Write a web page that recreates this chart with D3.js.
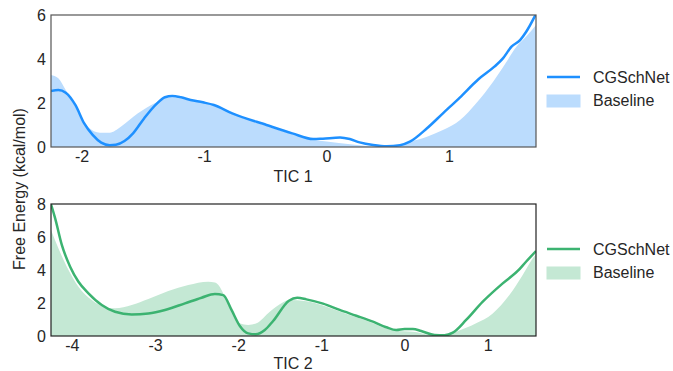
<!DOCTYPE html>
<html lang="en">
<head>
    <meta charset="UTF-8">
    <title>Free energy TIC</title>
    <style>
        body { margin: 0; background: #fff; }
        text { font-family: "Liberation Sans", Arial, sans-serif; fill: #262626; }
    </style>
</head>
<body>
<script src="https://cdn.jsdelivr.net/npm/d3@7"></script>
<script>
    // TIC 1 panel
    const tic1NetX = [-2.25, -2.19, -2.13, -2.05, -1.98, -1.91, -1.84, -1.77, -1.72, -1.65, -1.58, -1.49, -1.39, -1.32, -1.26, -1.19, -1.11, -1.01, -0.92, -0.77, -0.49, -0.28, -0.11, -0.03, 0.11, 0.19, 0.27, 0.38, 0.49, 0.60, 0.68, 0.82, 0.95, 1.09, 1.24, 1.37, 1.44, 1.51, 1.58, 1.63, 1.71];
    const tic1NetY = [2.55, 2.59, 2.47, 1.90, 1.08, 0.55, 0.20, 0.08, 0.10, 0.27, 0.62, 1.30, 1.95, 2.26, 2.32, 2.26, 2.14, 2.03, 1.91, 1.53, 1.00, 0.62, 0.36, 0.38, 0.43, 0.36, 0.21, 0.09, 0.03, 0.08, 0.24, 0.85, 1.53, 2.26, 3.08, 3.65, 4.03, 4.56, 4.86, 5.24, 6.05];
    const tic1BaseX = [-2.25, -2.19, -2.13, -2.05, -1.95, -1.85, -1.77, -1.68, -1.54, -1.40, -1.29, -1.10, -0.92, -0.77, -0.49, -0.28, -0.11, 0.0, 0.1, 0.25, 0.4, 0.55, 0.68, 0.82, 0.95, 1.09, 1.22, 1.36, 1.46, 1.55, 1.63, 1.71];
    const tic1BaseY = [3.27, 3.12, 2.59, 1.83, 0.92, 0.65, 0.65, 0.92, 1.53, 2.00, 2.26, 2.10, 1.88, 1.50, 0.97, 0.58, 0.33, 0.25, 0.18, 0.09, 0.02, 0.03, 0.24, 0.47, 0.77, 1.23, 1.98, 2.97, 3.80, 4.56, 5.02, 5.55];

    // TIC 2 panel
    const tic2NetX = [-4.25, -4.20, -4.12, -4.02, -3.92, -3.80, -3.64, -3.48, -3.28, -3.08, -2.88, -2.64, -2.44, -2.28, -2.18, -2.08, -1.98, -1.88, -1.79, -1.68, -1.58, -1.39, -1.29, -1.18, -0.98, -0.78, -0.58, -0.38, -0.22, -0.10, 0.0, 0.10, 0.20, 0.36, 0.48, 0.58, 0.74, 0.94, 1.18, 1.36, 1.46, 1.58];
    const tic2NetY = [7.98, 7.13, 5.52, 4.20, 3.29, 2.59, 1.88, 1.47, 1.31, 1.37, 1.58, 1.98, 2.32, 2.55, 2.48, 1.58, 0.61, 0.16, 0.10, 0.36, 0.91, 2.14, 2.32, 2.22, 1.96, 1.58, 1.23, 0.87, 0.53, 0.36, 0.42, 0.42, 0.30, 0.06, 0.04, 0.20, 0.97, 2.08, 3.19, 3.94, 4.50, 5.15];
    const tic2BaseX = [-4.25, -4.16, -4.06, -3.92, -3.76, -3.62, -3.48, -3.28, -3.08, -2.84, -2.60, -2.36, -2.28, -2.24, -2.16, -2.08, -1.98, -1.88, -1.78, -1.62, -1.46, -1.39, -1.18, -0.98, -0.78, -0.58, -0.38, -0.22, -0.10, 0.10, 0.30, 0.45, 0.62, 0.86, 1.06, 1.26, 1.42, 1.54, 1.58];
    const tic2BaseY = [6.42, 5.30, 4.20, 2.99, 2.18, 1.78, 1.68, 1.88, 2.24, 2.73, 3.09, 3.29, 3.25, 3.10, 2.38, 1.50, 0.77, 0.67, 0.77, 1.47, 2.04, 2.18, 2.10, 1.85, 1.48, 1.13, 0.78, 0.45, 0.30, 0.26, 0.06, 0.0, 0.26, 0.77, 1.37, 2.48, 3.70, 4.70, 4.95];

    const xTicks1 = [-2, -1, 0, 1];
    const yTicks1 = [0, 2, 4, 6];
    const xTicks2 = [-4, -3, -2, -1, 0, 1];
    const yTicks2 = [0, 2, 4, 6, 8];
    const legendLabels = ["CGSchNet", "Baseline"];

    const width = 673, height = 371;
    const svg = d3.select("body").append("svg")
        .attr("width", width)
        .attr("height", height);

    const zip = (xs, ys) => xs.map((x, i) => ({x: x, y: ys[i]}));

    function panel(opts) {
        const g = svg.append("g");
        const xScale = d3.scaleLinear().domain(opts.xDomain).range([51, 536]);
        const yScale = d3.scaleLinear().domain(opts.yDomain).range([opts.bottom, opts.top]);

        const clipId = "clip" + opts.id;
        svg.append("clipPath").attr("id", clipId)
            .append("rect")
            .attr("x", 51).attr("y", opts.top)
            .attr("width", 485).attr("height", opts.bottom - opts.top);

        // Baseline area
        g.append("path")
            .datum(zip(opts.baseX, opts.baseY))
            .attr("clip-path", "url(#" + clipId + ")")
            .attr("fill", opts.fill)
            .attr("d", d3.area()
                .curve(d3.curveMonotoneX)
                .x(d => xScale(d.x))
                .y0(yScale(0))
                .y1(d => yScale(d.y)));

        // CGSchNet line
        g.append("path")
            .datum(zip(opts.netX, opts.netY))
            .attr("clip-path", "url(#" + clipId + ")")
            .attr("fill", "none")
            .attr("stroke", opts.color)
            .attr("stroke-width", 2.5)
            .attr("d", d3.line()
                .curve(d3.curveMonotoneX)
                .x(d => xScale(d.x))
                .y(d => yScale(d.y)));

        // frame
        g.append("rect")
            .attr("x", 51).attr("y", opts.top)
            .attr("width", 485).attr("height", opts.bottom - opts.top)
            .attr("fill", "none")
            .attr("stroke", opts.frame)
            .attr("stroke-width", 1.2);

        // axes without tick marks, plain hyphen minus
        const xAxis = g.append("g")
            .attr("transform", "translate(0," + opts.bottom + ")")
            .call(d3.axisBottom(xScale).tickValues(opts.xTicks).tickFormat(d => String(d)).tickSize(0).tickPadding(4));
        const yAxis = g.append("g")
            .attr("transform", "translate(51,0)")
            .call(d3.axisLeft(yScale).tickValues(opts.yTicks).tickFormat(d => String(d)).tickSize(0).tickPadding(5));
        [xAxis, yAxis].forEach(a => {
            a.select(".domain").remove();
            a.selectAll("text")
                .style("font-family", "'Liberation Sans', Arial, sans-serif")
                .style("font-size", "16px")
                .attr("fill", "#262626");
        });

        g.append("text")
            .attr("x", 293).attr("y", opts.bottom + opts.titleOffset)
            .attr("text-anchor", "middle")
            .style("font-size", "16px")
            .text(opts.title);

        // legend
        const ly = opts.legendY;
        g.append("line")
            .attr("x1", 547).attr("x2", 580)
            .attr("y1", ly).attr("y2", ly)
            .attr("stroke", opts.color).attr("stroke-width", 2.5);
        g.append("rect")
            .attr("x", 547).attr("y", ly + 18)
            .attr("width", 33).attr("height", 12)
            .attr("fill", opts.fill)
            .attr("stroke", opts.fill);
        g.selectAll(".leg")
            .data(legendLabels)
            .enter().append("text")
            .attr("x", 593)
            .attr("y", (d, i) => ly + 6 + i * 23)
            .style("font-size", "16px")
            .text(d => d);
    }

    panel({
        id: 1, top: 15, bottom: 147,
        xDomain: [-2.25, 1.71], yDomain: [0, 6],
        netX: tic1NetX, netY: tic1NetY, baseX: tic1BaseX, baseY: tic1BaseY,
        xTicks: xTicks1, yTicks: yTicks1,
        color: "#1e90ff", fill: "#bbdcfd", frame: "#555",
        title: "TIC 1", titleOffset: 35, legendY: 77
    });

    panel({
        id: 2, top: 204, bottom: 336,
        xDomain: [-4.25, 1.58], yDomain: [0, 8],
        netX: tic2NetX, netY: tic2NetY, baseX: tic2BaseX, baseY: tic2BaseY,
        xTicks: xTicks2, yTicks: yTicks2,
        color: "#3cb371", fill: "#c4e8d4", frame: "#222",
        title: "TIC 2", titleOffset: 33, legendY: 249
    });

    svg.append("text")
        .attr("transform", "translate(25,189) rotate(-90)")
        .attr("text-anchor", "middle")
        .style("font-size", "16px")
        .text("Free Energy (kcal/mol)");
</script>
</body>
</html>
